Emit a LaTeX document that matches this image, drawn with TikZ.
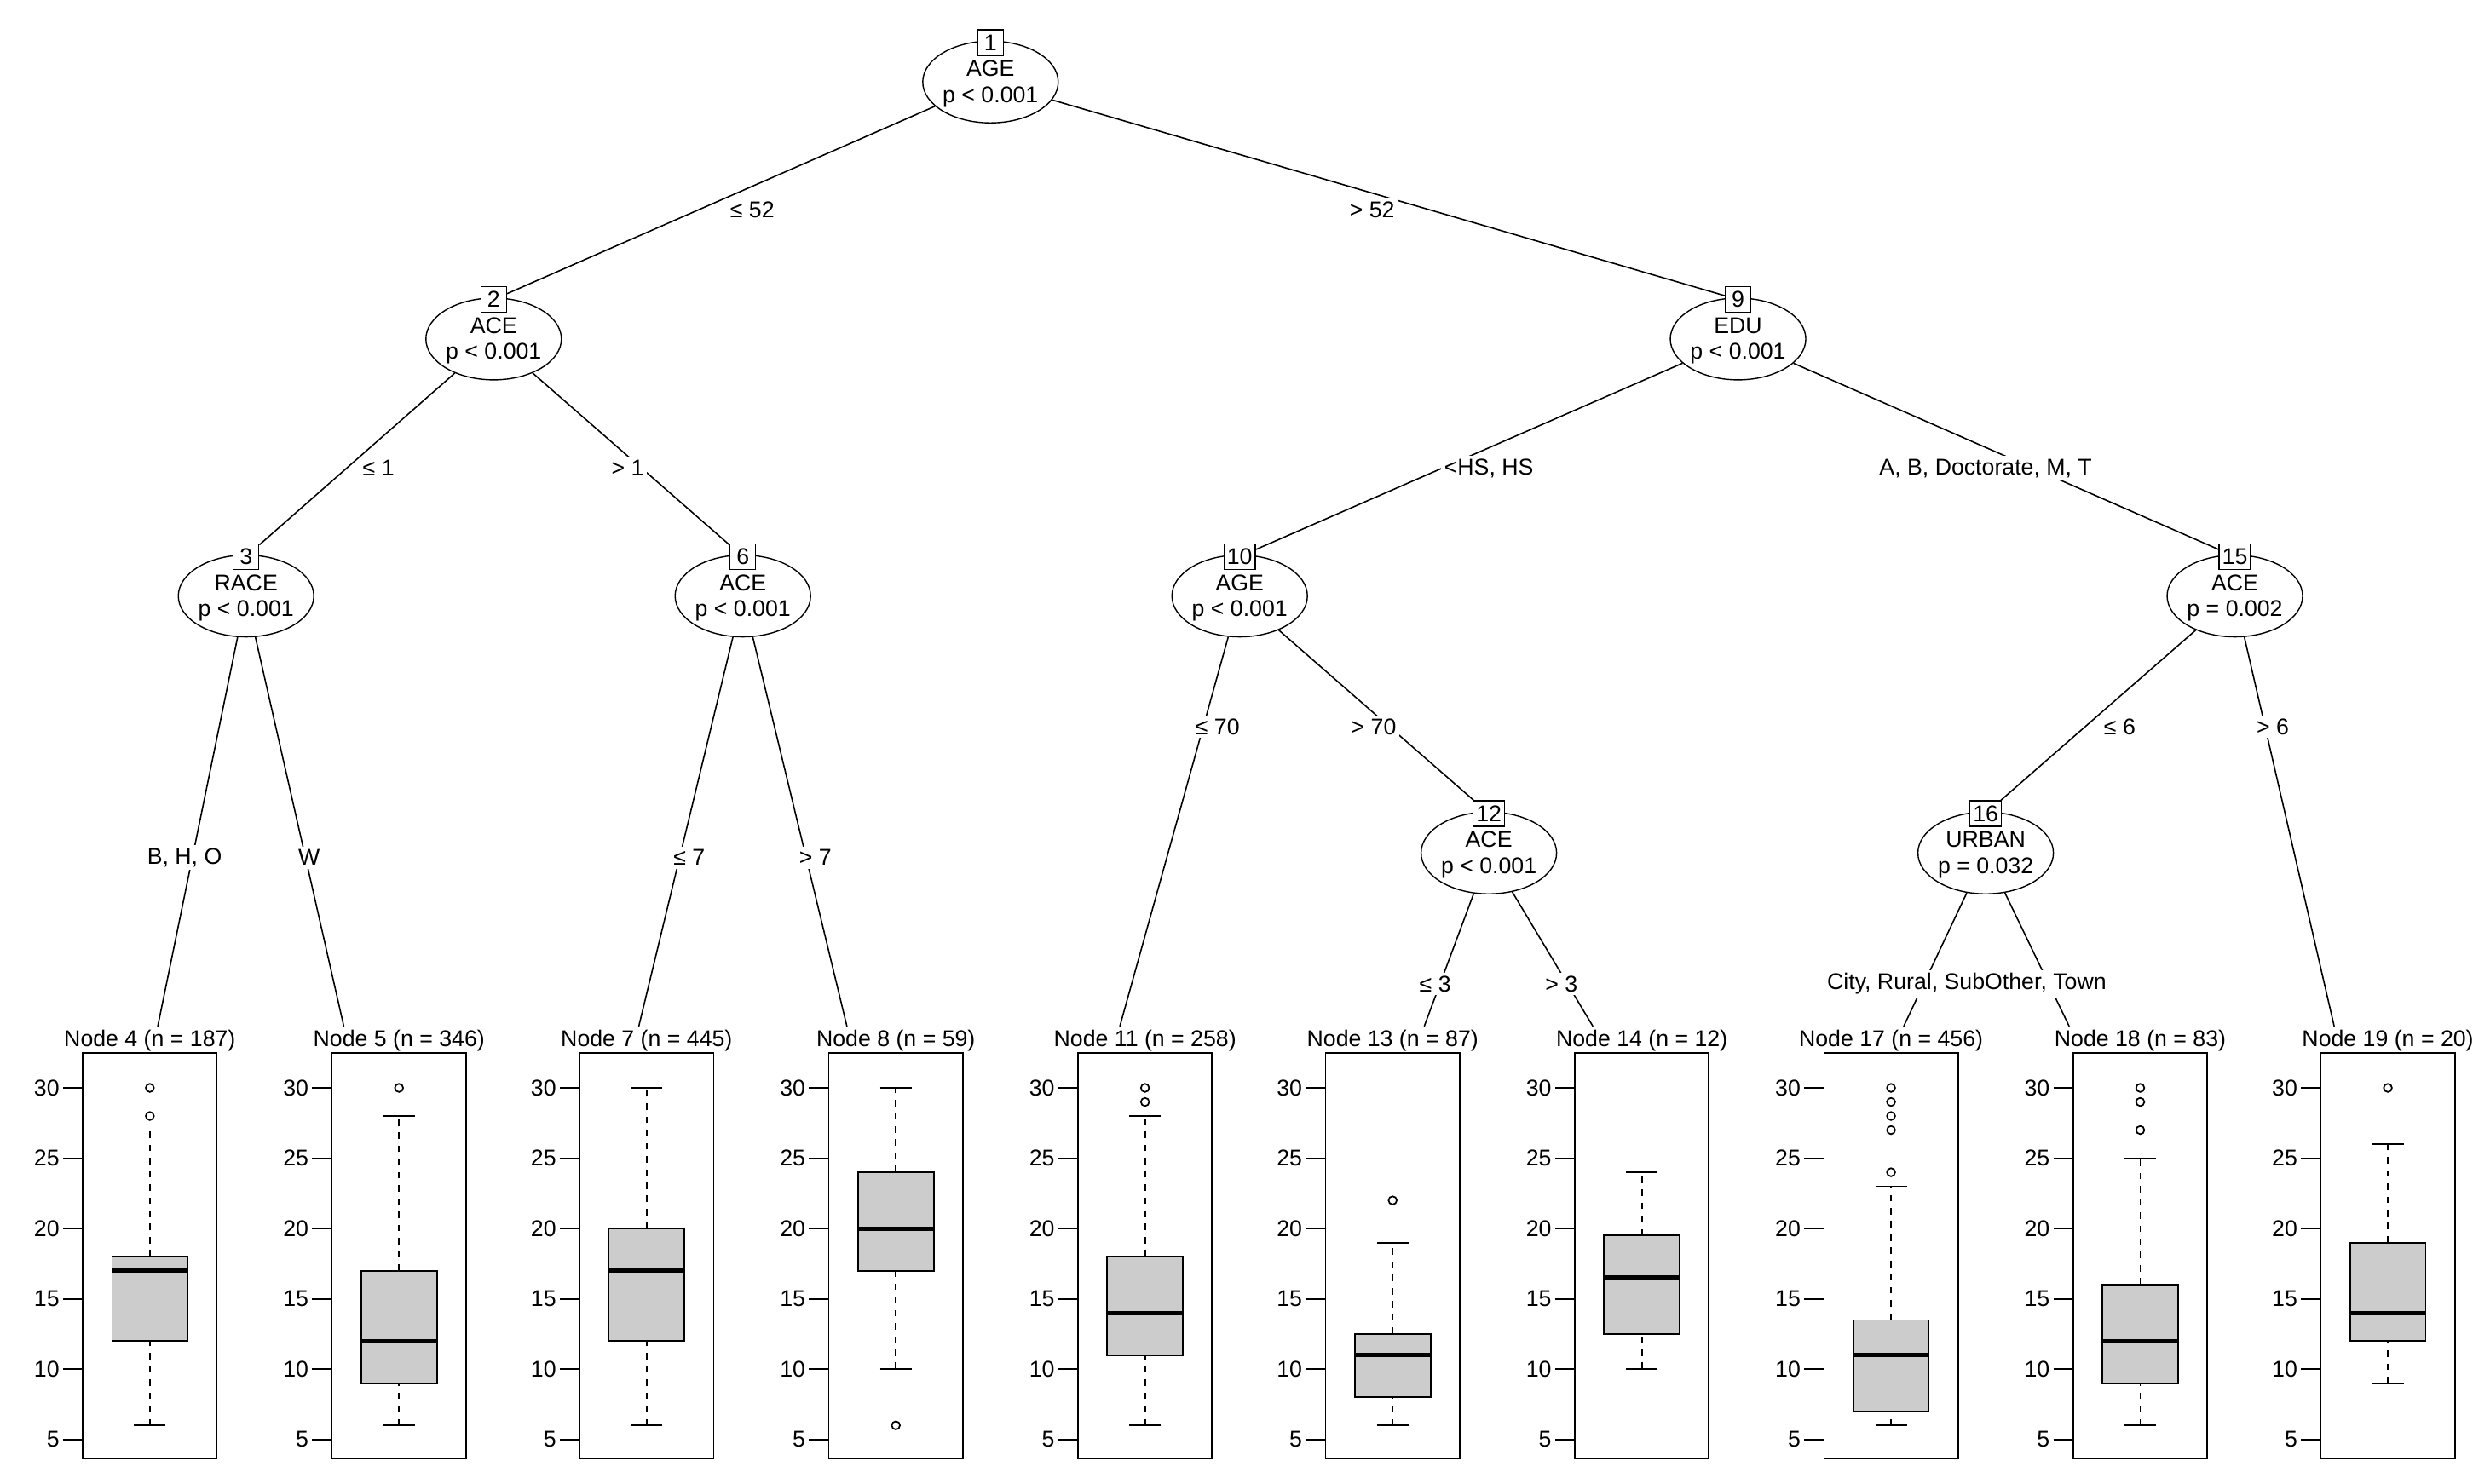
\documentclass[tikz,border=0pt]{standalone}
\usepackage{fontspec}
\setmainfont{Liberation Sans}
\usetikzlibrary{shapes.geometric,positioning}

\begin{document}
\begin{tikzpicture}[x=0.018508cm,y=-0.018508cm,
    font=\fontsize{7.6}{8.6}\selectfont,
    inner/.style={ellipse,draw,minimum width=1.59cm,minimum height=0.96cm,
      inner sep=0pt,align=center},
    idbox/.style={draw,fill=white,inner sep=1pt,minimum size=0.3cm},
    elabel/.style={fill=white,inner sep=1pt},
    edge/.style={draw,line width=0.45pt},
    bx/.style={draw,fill=black!20,line width=0.5pt},
    whisk/.style={dash pattern=on 2.2pt off 2.2pt,line width=0.5pt}
  ]
  \useasboundingbox (0,0) rectangle (1568,941);

  % inner nodes
  \foreach \id/\x/\y/\var/\p in {1/628/52/AGE/{p < 0.001},
      2/313/215/ACE/{p < 0.001}, 9/1102/215/EDU/{p < 0.001},
      3/156/378/RACE/{p < 0.001}, 6/471/378/ACE/{p < 0.001},
      10/786/378/AGE/{p < 0.001}, 15/1417/378/ACE/{p = 0.002},
      12/944/541/ACE/{p < 0.001}, 16/1259/541/URBAN/{p = 0.032}}{
    \node[inner] (n\id) at (\x,\y) {\\[-2pt]\var\\\p};
    \node[idbox] (b\id) at (\x,\y-25) {\id};
  }

  % terminal titles and edge ends
  \foreach \id/\x/\nn/\ex in {4/95/187/100,5/253/346/218,7/410/445/405,
      8/568/59/537,11/726/258/710,13/883/87/903,14/1041/12/1010,
      17/1199/456/1207,18/1357/83/1312,19/1514/20/1480}{
    \node[inner sep=1pt] (t\id) at (\x,660) {Node \id{} (n = \nn)};
    \coordinate (e\id) at (\ex,651);
  }

  % edges
  \foreach \a/\b in {n1/b2,n1/b9,n2/b3,n2/b6,n9/b10,n9/b15,n3/e4,n3/e5,
      n6/e7,n6/e8,n10/e11,n10/b12,n12/e13,n12/e14,n15/b16,n15/e19,
      n16/e17,n16/e18}{
    \draw[edge] (\a) -- (\b);
  }

  % edge labels
  \node[elabel] (l1) at (477,133) {≤ 52};
  \node[elabel] (l2) at (870,133) {> 52};
  \node[elabel] (l3) at (240,297) {≤ 1};
  \node[elabel] (l4) at (398,297) {> 1};
  \node[elabel] (l5) at (944,297) {<HS, HS};
  \node[elabel] (l6) at (1259,297) {A, B, Doctorate, M, T};
  \node[elabel] (l7) at (117,544) {B, H, O};
  \node[elabel] (l8) at (196,544) {W};
  \node[elabel] (l9) at (437,544) {≤ 7};
  \node[elabel] (l10) at (517,544) {> 7};
  \node[elabel] (l11) at (772,461) {≤ 70};
  \node[elabel] (l12) at (871,461) {> 70};
  \node[elabel] (l13) at (910,624) {≤ 3};
  \node[elabel] (l14) at (990,624) {> 3};
  \node[elabel] (l15) at (1344,461) {≤ 6};
  \node[elabel] (l16) at (1441,461) {> 6};
  \node[elabel] (l17) at (1247,624) {City, Rural, SubOther, Town};

  % box plots
  \foreach \c/\lo/\qa/\md/\qb/\hi/\out in {95/6/12/17/18/27/{28,30},
      253/6/9/12/17/28/{30}, 410/6/12/17/20/30/{}, 568/10/17/20/24/30/{6},
      726/6/11/14/18/28/{29,30}, 883/6/8/11/12.5/19/{22},
      1041/10/12.5/16.5/19.5/24/{}, 1199/6/7/11/13.5/23/{24,27,28,29,30},
      1357/6/9/12/16/25/{27,29,30}, 1514/9/12/14/19/26/{30}}{
    \draw[line width=0.5pt] (\c-42.5,668) rectangle (\c+42.5,925);
    \foreach \v in {5,10,...,30}{
      \draw[line width=0.5pt] (\c-55,{913-(\v-5)*8.92}) -- (\c-42.5,{913-(\v-5)*8.92});
      \node[anchor=east,inner sep=0pt] at (\c-57,{913-(\v-5)*8.92}) {\v};
    }
    \draw[whisk] (\c,{913-(\lo-5)*8.92}) -- (\c,{913-(\qa-5)*8.92});
    \draw[whisk] (\c,{913-(\qb-5)*8.92}) -- (\c,{913-(\hi-5)*8.92});
    \draw[line width=0.5pt] (\c-10,{913-(\lo-5)*8.92}) -- (\c+10,{913-(\lo-5)*8.92});
    \draw[line width=0.5pt] (\c-10,{913-(\hi-5)*8.92}) -- (\c+10,{913-(\hi-5)*8.92});
    \draw[bx] (\c-24,{913-(\qa-5)*8.92}) rectangle (\c+24,{913-(\qb-5)*8.92});
    \draw[line width=1.4pt] (\c-24,{913-(\md-5)*8.92}) -- (\c+24,{913-(\md-5)*8.92});
    \foreach \o in \out{
      \draw[line width=0.5pt] (\c,{913-(\o-5)*8.92}) circle (2.6);
    }
  }
\end{tikzpicture}
\end{document}
